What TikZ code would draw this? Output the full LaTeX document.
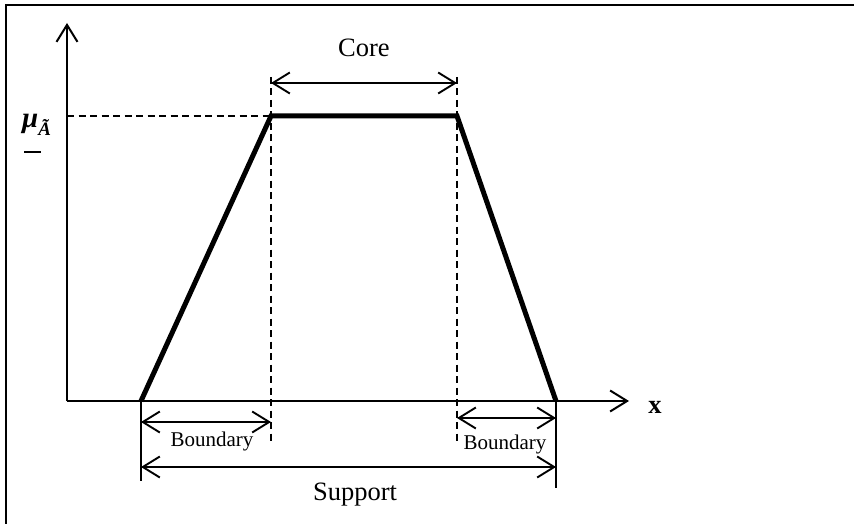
\documentclass[tikz,border=0pt]{standalone}
\usepackage{fontspec}
\setmainfont{Liberation Serif}
\usetikzlibrary{arrows.meta}

\tikzset{
  axis/.style={line width=2pt, -{Straight Barb[length=17pt,width=21pt,line width=2pt]}},
  dim/.style={line width=1.9pt, {Straight Barb[length=17pt,width=21pt,line width=1.9pt]}-{Straight Barb[length=17pt,width=21pt,line width=1.9pt]}},
  guide/.style={line width=1.8pt, dash pattern=on 7pt off 4.5pt},
  tick/.style={line width=2pt},
  mf/.style={line width=5pt, line join=miter, line cap=butt},
  bigtext/.style={font=\fontsize{26.5}{30}\selectfont, inner sep=0pt, anchor=base},
  smalltext/.style={font=\fontsize{21}{24}\selectfont, inner sep=0pt, anchor=base},
}

\newcommand{\musym}{{\bfseries\itshape\fontsize{29}{30}\selectfont μ\raisebox{-8pt}{\fontsize{19}{20}\selectfont Ã}}}

\begin{document}
\begin{tikzpicture}[x=1pt, y=-1pt]
  \useasboundingbox (0,0) rectangle (854,524);

  % outer frame
  \draw[line width=2pt] (5.5,5.5) rectangle (870,540);

  % key points
  \coordinate (O) at (67,401);
  \coordinate (ytop) at (67,23);
  \coordinate (xend) at (629,401);
  \coordinate (a) at (141,401);
  \coordinate (b) at (271,116);
  \coordinate (c) at (457,116);
  \coordinate (d) at (556,401);
  \coordinate (ymu) at (67,116);
  \coordinate (bTop) at (271,77);
  \coordinate (bBot) at (271,443);
  \coordinate (cTop) at (457,77);
  \coordinate (cBot) at (457,443);
  \coordinate (coreL) at (271,83);
  \coordinate (coreR) at (457,83);
  \coordinate (bl1) at (141,422);
  \coordinate (bl2) at (271,422);
  \coordinate (br1) at (457,418);
  \coordinate (br2) at (556,418);
  \coordinate (sL) at (141,467);
  \coordinate (sR) at (556,467);
  \coordinate (aBot) at (141,481);
  \coordinate (dBot) at (556,488);
  \coordinate (dash1) at (24,152);
  \coordinate (dash2) at (41,152);

  % dashed guides
  \draw[guide] (ymu) -- (b);
  \draw[guide] (bTop) -- (bBot);
  \draw[guide] (cTop) -- (cBot);

  % axes
  \draw[axis] (O) -- (ytop);
  \draw[axis] (O) -- (xend);

  % trapezoidal membership function
  \draw[mf] (a) -- (b) -- (c) -- (d);

  % support end ticks
  \draw[tick] (a) -- (aBot);
  \draw[tick] (d) -- (dBot);

  % dimension arrows
  \draw[dim] (coreL) -- (coreR);
  \draw[dim] (bl1) -- (bl2);
  \draw[dim] (br1) -- (br2);
  \draw[dim] (sL) -- (sR);

  % labels
  \node[bigtext] (core) at (364,57) {Core};
  \node[bigtext] (support) at (355,500) {Support};
  \node[smalltext] (bleft) at (212,446) {Boundary};
  \node[smalltext] (bright) at (505,449) {Boundary};
  \node[bigtext, font=\fontsize{26.5}{30}\selectfont\bfseries] (xlab) at (655,413) {x};
  \node[inner sep=0pt, anchor=base west] (mu) at (22,128) {\musym};
  \draw[line width=2pt] (dash1) -- (dash2);
\end{tikzpicture}
\end{document}
